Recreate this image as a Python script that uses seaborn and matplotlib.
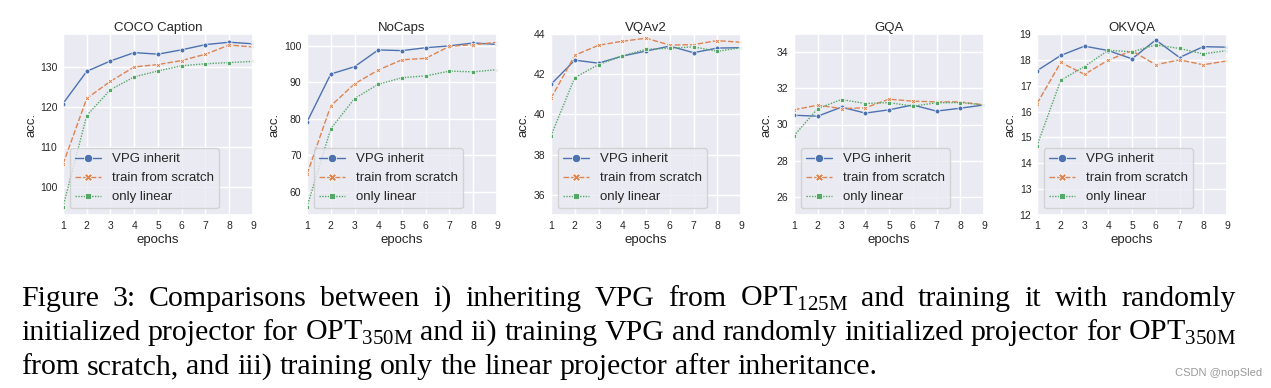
import numpy as np
import pandas as pd
import matplotlib
matplotlib.use("Agg")
import matplotlib.pyplot as plt
import seaborn as sns
from matplotlib.ticker import MultipleLocator

# ---------------- data ----------------
epochs = [1, 2, 3, 4, 5, 6, 7, 8, 9]
series_names = ["VPG inherit", "train from scratch", "only linear"]
titles = ["COCO Caption", "NoCaps", "VQAv2", "GQA", "OKVQA"]

coco_vpg = [120.9, 129.0, 131.6, 133.7, 133.3, 134.4, 135.7, 136.3, 135.9]
coco_scratch = [105.7, 122.2, 126.5, 130.1, 130.7, 131.7, 133.3, 135.6, 135.1]
coco_linear = [95.0, 117.9, 124.4, 127.6, 129.1, 130.4, 130.9, 131.2, 131.5]

nocaps_vpg = [79.1, 92.2, 94.2, 98.8, 98.6, 99.4, 99.9, 100.7, 100.3]
nocaps_scratch = [64.8, 83.5, 89.5, 93.3, 96.1, 96.5, 99.8, 100.2, 100.9]
nocaps_linear = [55.9, 77.2, 85.5, 89.4, 91.2, 91.7, 93.0, 92.8, 93.4]

vqa_vpg = [41.5, 42.7, 42.55, 42.9, 43.15, 43.4, 43.07, 43.3, 43.32]
vqa_scratch = [40.8, 42.94, 43.44, 43.64, 43.79, 43.45, 43.47, 43.67, 43.59]
vqa_linear = [38.94, 41.83, 42.48, 42.91, 43.24, 43.29, 43.36, 43.14, 43.32]

gqa_vpg = [30.51, 30.46, 30.96, 30.63, 30.81, 31.08, 30.74, 30.90, 31.08]
gqa_scratch = [30.81, 31.07, 30.88, 30.92, 31.40, 31.29, 31.25, 31.25, 31.08]
gqa_linear = [29.38, 30.88, 31.38, 31.16, 31.21, 31.01, 31.20, 31.21, 31.08]

okvqa_vpg = [17.58, 18.17, 18.53, 18.36, 18.04, 18.77, 18.09, 18.51, 18.49]
okvqa_scratch = [16.31, 17.90, 17.44, 17.99, 18.35, 17.81, 18.00, 17.81, 17.96]
okvqa_linear = [14.68, 17.21, 17.74, 18.37, 18.31, 18.58, 18.44, 18.23, 18.36]

panel_values = [
    (coco_vpg, coco_scratch, coco_linear),
    (nocaps_vpg, nocaps_scratch, nocaps_linear),
    (vqa_vpg, vqa_scratch, vqa_linear),
    (gqa_vpg, gqa_scratch, gqa_linear),
    (okvqa_vpg, okvqa_scratch, okvqa_linear),
]
y_limits = [None, None, (35, 44), (25, 35), (12, 19)]
y_steps = [10, 10, 2, 2, 1]

caption_lines = [
    r"Figure 3: Comparisons between i) inheriting VPG from OPT$_{\mathregular{125M}}$ and training it with randomly",
    r"initialized projector for OPT$_{\mathregular{350M}}$ and ii) training VPG and randomly initialized projector for OPT$_{\mathregular{350M}}$",
    r"from scratch, and iii) training only the linear projector after inheritance.",
]
watermark = "CSDN @nopSled"

# ---------------- style ----------------
sns.set_theme(style="darkgrid", palette="deep")
plt.rcParams["font.family"] = ["Liberation Sans", "DejaVu Sans"]

W, H = 1271, 388
fig = plt.figure(figsize=(W / 100, H / 100), dpi=100)

ax_lefts = [63, 307, 551, 794, 1037]
ax_w, ax_top, ax_bot = 190, 34, 215
ylabel_x = [-0.135, -0.138, -0.115, -0.115, -0.107]

for i, (title, vals) in enumerate(zip(titles, panel_values)):
    ax = fig.add_axes([ax_lefts[i] / W, 1 - ax_bot / H, ax_w / W, (ax_bot - ax_top) / H])
    rows = []
    for name, v in zip(series_names, vals):
        for e, a in zip(epochs, v):
            rows.append({"epochs": e, "acc.": a, "method": name})
    df = pd.DataFrame(rows)
    sns.lineplot(data=df, x="epochs", y="acc.", hue="method", style="method",
                 markers=True, dashes=True, ax=ax, linewidth=1.0,
                 markersize=3.5, markeredgewidth=0.5)
    ax.set_xlim(1, 9)
    ax.xaxis.set_major_locator(MultipleLocator(1))
    ax.yaxis.set_major_locator(MultipleLocator(y_steps[i]))
    if y_limits[i] is not None:
        ax.set_ylim(*y_limits[i])
    ax.set_title(title, fontsize=9.5, pad=2.5)
    ax.set_xlabel("epochs", fontsize=9.5, labelpad=2.5)
    ax.set_ylabel("acc.", fontsize=9.5)
    ax.yaxis.set_label_coords(ylabel_x[i], 0.5)
    ax.tick_params(axis="both", labelsize=7.5, pad=4, length=0)
    old = ax.get_legend()
    handles = list(old.legend_handles)
    labels = [t.get_text() for t in old.get_texts()]
    leg = ax.legend(handles, labels, loc="lower left", fontsize=9.5)
    for h in leg.legend_handles:
        h.set_markersize(6)
        h.set_linewidth(1.0)

# ---------------- caption ----------------
fig.canvas.draw()
renderer = fig.canvas.get_renderer()
cap_font = dict(fontsize=21.5, family="Liberation Serif", color="black")


def text_width(s):
    t = fig.text(0, 0, s, **cap_font)
    w = t.get_window_extent(renderer).width
    t.remove()
    return w


space_w = text_width("a a") - text_width("aa")
cap_left, cap_right = 21, 1236
baselines = [306, 340, 374]
for li, line in enumerate(caption_lines):
    words = line.split(" ")
    widths = [text_width(w) for w in words]
    if li < len(caption_lines) - 1:
        gap = (cap_right - cap_left - sum(widths)) / (len(words) - 1)
    else:
        gap = space_w
    x = cap_left
    for w, wd in zip(words, widths):
        fig.text(x / W, 1 - baselines[li] / H, w, ha="left", va="baseline", **cap_font)
        x += wd + gap

fig.text(1262 / W, 1 - 376 / H, watermark, ha="right", va="baseline",
         fontsize=8, color="#9a9a9a", family="Liberation Sans")

fig.savefig("out.png", dpi=100, facecolor="white")
